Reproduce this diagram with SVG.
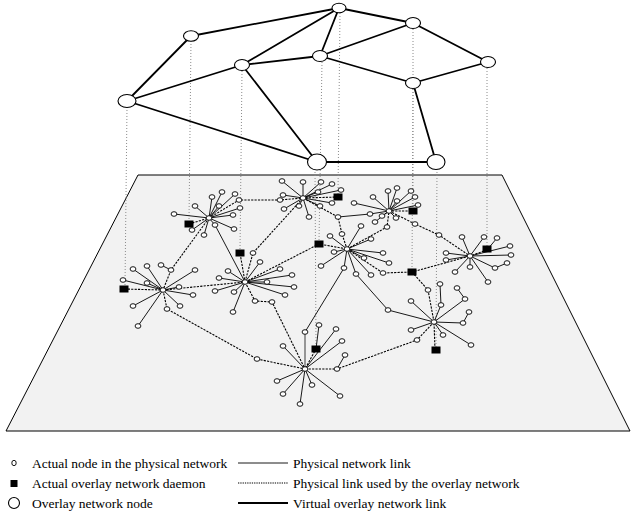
<svg xmlns="http://www.w3.org/2000/svg" width="636" height="512" viewBox="0 0 636 512">
<style>
.plane{fill:#f2f2f2;stroke:#000;stroke-width:1}
.v{stroke:#8a8a8a;stroke-width:1;stroke-dasharray:1 2;fill:none}
.pl{stroke:#000;stroke-width:0.9;fill:none}
.gl{stroke:#777;stroke-width:1.5;fill:none}
.ol{stroke:#000;stroke-width:1.1;stroke-dasharray:2.2 1.2;fill:none}
.vl{stroke:#000;stroke-width:1.8;fill:none}
.pn{fill:#fff;stroke:#000;stroke-width:0.9}
.dm{fill:#000}
.on{fill:#fff;stroke:#000;stroke-width:1.1}
text{font-family:"Liberation Serif","Times New Roman",serif;font-size:13.5px;fill:#000}
</style>
<defs>
<ellipse id="n" rx="2.9" ry="2.3" class="pn"/>
<rect id="d" x="-4.5" y="-3.5" width="9" height="7" class="dm"/>
</defs>

<polygon id="plane" class="plane" points="138,175 502,175 630,431 6,431"/>

<g id="projections">
<path class="v" d="M127 107 L125 286 M191 41 L189 221 M242 71 L240 250 M315 169 L316 346 M322 62 L319 241 M340 13 L338 194 M413 29 L413 208 M413 89 L412 269 M437 169 L436 347 M487 68 L487 246"/>
</g>

<g id="connectors">
<g id="physical-links">
<path class="pl" d="M209 218 L212 197 M209 218 L222 192 M209 218 L235 194 M209 218 L219 206 M209 218 L240 208 M209 218 L233 215 M209 218 L174 214 M209 218 L195 206 M209 218 L234 229 M209 218 L215 225 L245 282 M209 218 L204 235 M209 218 L192 230"/>
<path class="pl" d="M303 198 L282 181 M303 198 L303 182 M303 198 L321 182 M303 198 L332 184 M303 198 L341 190 M303 198 L318 192 M303 198 L283 195 M303 198 L284 209 M303 198 L299 206 M303 198 L309 217 M303 198 L320 206 M303 198 L332 203"/>
<path class="pl" d="M389 211 L354 203 M389 211 L373 197 M389 211 L388 191 M389 211 L397 188 M389 211 L411 191 M389 211 L415 197 M389 211 L397 201 M389 211 L418 205 M389 211 L382 216 M389 211 L375 222 M389 211 L396 218 M389 211 L370 214 L338 217"/>
<path class="pl" d="M163 290 L133 269 M163 290 L147 266 M163 290 L123 280 M163 290 L147 283 M163 290 L179 287 M163 290 L195 270 M163 290 L193 295 M163 290 L180 306 M163 290 L133 306 M163 290 L138 326 M161 265 L171 270"/>
<path class="pl" d="M245 282 L260 262 M245 282 L228 271 M245 282 L219 278 M245 282 L280 269 M245 282 L292 275 M245 282 L267 282 M245 282 L294 287 M245 282 L215 291 M245 282 L234 292 M245 282 L285 295 M245 282 L233 312"/>
<path class="pl" d="M347 249 L361 226 M347 249 L330 236 M347 249 L371 239 M347 249 L334 252 M347 249 L321 266 M347 249 L344 268 L305 332 M347 249 L356 274 L388 310 L434 322 M347 249 L371 275 M347 249 L364 258 M347 249 L383 253 M347 249 L389 263"/>
<path class="pl" d="M470 256 L462 237 M470 256 L484 237 M470 256 L510 246 M470 256 L511 255 M470 256 L495 268 L507 263 M470 256 L446 253 M470 256 L446 260 M470 256 L455 272 M470 256 L470 267 M470 256 L488 282 M497 238 L487 250"/>
<path class="pl" d="M434 322 L441 305 L440 284 M434 322 L465 299 L457 288 M434 322 L411 301 M434 322 L463 323 L469 312 M434 322 L411 330 M434 322 L443 335 M434 322 L471 345"/>
<path class="pl" d="M305 369 L336 329 M305 369 L342 341 M305 369 L283 346 M305 369 L277 381 M305 369 L283 394 M305 369 L300 404 M305 369 L312 385 M305 369 L340 396 M319 325 L316 349 M345 355 L337 369"/>
<path class="gl" d="M305 369 L305 332"/>
</g>
<g id="overlay-paths">
<path class="ol" d="M189 224 L209 218 L239 200 L280 200 L303 198 L338 197 M209 218 L171 270 L163 290 L124 289 M163 290 L245 282 L240 253 M163 290 L167 309 L257 359 L305 369 M245 282 L253 253 L303 198 M245 282 L319 244 L347 249 M245 282 L255 301 L272 302 L305 369 M303 198 L338 217 L342 234 L347 249 M347 249 L387 227 L389 211 L413 211 M389 211 L415 224 L439 235 L470 256 L487 250 M347 249 L383 273 L412 272 L470 256 M412 272 L428 290 L434 322 L435 350 M434 322 L417 340 L337 369 L305 369 L316 349"/>
</g>
<g id="virtual-links">
<path class="vl" d="M127 101 L191 36 M127 101 L242 65 M127 101 L317 162 M191 36 L339 8 M242 65 L339 8 M242 65 L320 56 M242 65 L317 162 M320 56 L339 8 M320 56 L413 23 M320 56 L413 83 M339 8 L413 23 M413 23 L488 62 M488 62 L413 83 M413 83 L436 162 M317 162 L436 162"/>
</g>
</g>

<g id="cluster1">
<use href="#n" x="209" y="218"/><use href="#n" x="212" y="197"/><use href="#n" x="222" y="192"/><use href="#n" x="235" y="194"/><use href="#n" x="239" y="200"/><use href="#n" x="219" y="206"/><use href="#n" x="240" y="208"/><use href="#n" x="233" y="215"/><use href="#n" x="174" y="214"/><use href="#n" x="195" y="206"/><use href="#n" x="234" y="229"/><use href="#n" x="215" y="225"/><use href="#n" x="204" y="235"/><use href="#n" x="192" y="230"/>
</g>
<g id="cluster2">
<use href="#n" x="303" y="198"/><use href="#n" x="282" y="181"/><use href="#n" x="303" y="182"/><use href="#n" x="321" y="182"/><use href="#n" x="332" y="184"/><use href="#n" x="341" y="190"/><use href="#n" x="318" y="192"/><use href="#n" x="283" y="195"/><use href="#n" x="280" y="200"/><use href="#n" x="284" y="209"/><use href="#n" x="299" y="206"/><use href="#n" x="309" y="217"/><use href="#n" x="320" y="206"/><use href="#n" x="332" y="203"/><use href="#n" x="253" y="253"/>
</g>
<g id="cluster3">
<use href="#n" x="389" y="211"/><use href="#n" x="354" y="203"/><use href="#n" x="373" y="197"/><use href="#n" x="388" y="191"/><use href="#n" x="397" y="188"/><use href="#n" x="411" y="191"/><use href="#n" x="415" y="197"/><use href="#n" x="397" y="201"/><use href="#n" x="418" y="205"/><use href="#n" x="382" y="216"/><use href="#n" x="375" y="222"/><use href="#n" x="396" y="218"/><use href="#n" x="370" y="214"/><use href="#n" x="338" y="217"/><use href="#n" x="415" y="224"/><use href="#n" x="439" y="235"/>
</g>
<g id="cluster4">
<use href="#n" x="163" y="290"/><use href="#n" x="133" y="269"/><use href="#n" x="147" y="266"/><use href="#n" x="161" y="265"/><use href="#n" x="171" y="270"/><use href="#n" x="123" y="280"/><use href="#n" x="147" y="283"/><use href="#n" x="179" y="287"/><use href="#n" x="195" y="270"/><use href="#n" x="193" y="295"/><use href="#n" x="180" y="306"/><use href="#n" x="133" y="306"/><use href="#n" x="167" y="309"/><use href="#n" x="138" y="326"/>
</g>
<g id="cluster5">
<use href="#n" x="245" y="282"/><use href="#n" x="260" y="262"/><use href="#n" x="228" y="271"/><use href="#n" x="219" y="278"/><use href="#n" x="280" y="269"/><use href="#n" x="292" y="275"/><use href="#n" x="267" y="282"/><use href="#n" x="294" y="287"/><use href="#n" x="215" y="291"/><use href="#n" x="234" y="292"/><use href="#n" x="285" y="295"/><use href="#n" x="233" y="312"/><use href="#n" x="255" y="301"/><use href="#n" x="272" y="302"/>
</g>
<g id="cluster6">
<use href="#n" x="347" y="249"/><use href="#n" x="361" y="226"/><use href="#n" x="342" y="234"/><use href="#n" x="330" y="236"/><use href="#n" x="371" y="239"/><use href="#n" x="387" y="227"/><use href="#n" x="334" y="252"/><use href="#n" x="321" y="266"/><use href="#n" x="344" y="268"/><use href="#n" x="356" y="274"/><use href="#n" x="371" y="275"/><use href="#n" x="364" y="258"/><use href="#n" x="383" y="253"/><use href="#n" x="389" y="263"/><use href="#n" x="383" y="273"/>
</g>
<g id="cluster7">
<use href="#n" x="470" y="256"/><use href="#n" x="462" y="237"/><use href="#n" x="484" y="237"/><use href="#n" x="497" y="238"/><use href="#n" x="510" y="246"/><use href="#n" x="511" y="255"/><use href="#n" x="507" y="263"/><use href="#n" x="495" y="268"/><use href="#n" x="446" y="253"/><use href="#n" x="446" y="260"/><use href="#n" x="455" y="272"/><use href="#n" x="470" y="267"/><use href="#n" x="488" y="282"/>
</g>
<g id="cluster8">
<use href="#n" x="434" y="322"/><use href="#n" x="428" y="290"/><use href="#n" x="441" y="305"/><use href="#n" x="440" y="284"/><use href="#n" x="465" y="299"/><use href="#n" x="457" y="288"/><use href="#n" x="411" y="301"/><use href="#n" x="469" y="312"/><use href="#n" x="463" y="323"/><use href="#n" x="411" y="330"/><use href="#n" x="443" y="335"/><use href="#n" x="471" y="345"/><use href="#n" x="417" y="340"/><use href="#n" x="388" y="310"/>
</g>
<g id="cluster9">
<use href="#n" x="305" y="369"/><use href="#n" x="305" y="332"/><use href="#n" x="319" y="325"/><use href="#n" x="336" y="329"/><use href="#n" x="342" y="341"/><use href="#n" x="345" y="355"/><use href="#n" x="337" y="369"/><use href="#n" x="283" y="346"/><use href="#n" x="257" y="359"/><use href="#n" x="277" y="381"/><use href="#n" x="283" y="394"/><use href="#n" x="300" y="404"/><use href="#n" x="312" y="385"/><use href="#n" x="340" y="396"/>
</g>

<g id="daemons">
<use href="#d" x="124" y="289"/><use href="#d" x="189" y="224"/><use href="#d" x="240" y="253"/><use href="#d" x="316" y="349"/><use href="#d" x="319" y="244"/><use href="#d" x="338" y="197"/><use href="#d" x="413" y="211"/><use href="#d" x="412" y="272"/><use href="#d" x="436" y="350"/><use href="#d" x="487" y="249"/>
</g>

<g id="overlay-A"><ellipse class="on" cx="339" cy="8" rx="7" ry="4.8"/></g>
<g id="overlay-B"><ellipse class="on" cx="413" cy="23" rx="7.5" ry="5.5"/></g>
<g id="overlay-C"><ellipse class="on" cx="191" cy="36" rx="7.5" ry="5.2"/></g>
<g id="overlay-D"><ellipse class="on" cx="320" cy="56" rx="7.5" ry="5.5"/></g>
<g id="overlay-E"><ellipse class="on" cx="242" cy="65" rx="7.5" ry="5.5"/></g>
<g id="overlay-F"><ellipse class="on" cx="488" cy="62" rx="7.5" ry="5.5"/></g>
<g id="overlay-G"><ellipse class="on" cx="413" cy="83" rx="7.5" ry="5.5"/></g>
<g id="overlay-H"><ellipse class="on" cx="127" cy="101" rx="9" ry="6.5"/></g>
<g id="overlay-I"><ellipse class="on" cx="317" cy="162" rx="9.5" ry="8"/></g>
<g id="overlay-J"><ellipse class="on" cx="436" cy="162" rx="9" ry="7.5"/></g>

<g id="legend">
<ellipse class="pn" cx="14" cy="463" rx="2.2" ry="2.7"/>
<rect class="dm" x="10.5" y="480" width="7" height="7"/>
<ellipse class="on" cx="14" cy="503" rx="5.5" ry="5.5"/>
<text x="32" y="467.5">Actual node in the physical network</text>
<text x="32" y="487.5">Actual overlay network daemon</text>
<text x="32" y="507.5">Overlay network node</text>
<line class="pl" x1="238" y1="463" x2="288" y2="463"/>
<line class="ol" x1="238" y1="483" x2="288" y2="483" style="stroke-dasharray:1.3 1"/>
<line class="vl" x1="238" y1="503" x2="288" y2="503"/>
<text x="293" y="467.5">Physical network link</text>
<text x="293" y="487.5">Physical link used by the overlay network</text>
<text x="293" y="507.5">Virtual overlay network link</text>
</g>
</svg>
